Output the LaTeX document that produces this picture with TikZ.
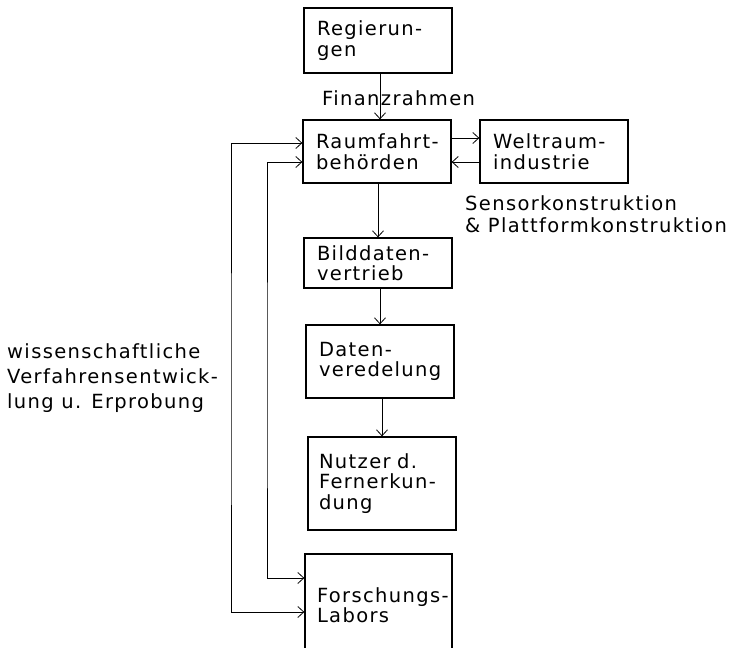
\documentclass[tikz,border=0pt]{standalone}
\usepackage{fontspec}
\setmainfont[LetterSpace=7]{DejaVu Sans}
\usetikzlibrary{arrows.meta}
\exhyphenpenalty=10000
\hyphenpenalty=10000
\begin{document}
\begin{tikzpicture}[x=1pt,y=-1pt,
  font=\fontsize{19.5}{20.5}\selectfont,
  box/.style={draw, line width=1.3pt, align=left, inner xsep=13pt, inner ysep=0pt,
     text width=122pt, minimum height=#1},
  arr/.style={line width=0.8pt, -{Straight Barb[length=6pt,width=11pt]}},
  barr/.style={line width=0.8pt, {Straight Barb[length=6pt,width=11pt]}-{Straight Barb[length=6pt,width=11pt]}},
  lbl/.style={align=left, inner sep=0pt}]
\useasboundingbox (0,0) rectangle (735,647);
\clip (0,0) rectangle (735,647);
\fill[white] (0,0) rectangle (735,647);

\node[box=65pt] (reg) at (378,40.5) {Regierun-\\gen};
\node[box=63pt] (raum) at (377,151.5) {Raumfahrt-\\behörden};
\node[box=63pt] (welt) at (554,151.5) {Weltraum-\\industrie};
\node[box=50pt] (bild) at (378,263) {Bilddaten-\\vertrieb};
\node[box=73pt] (daten) at (380,361.5) {Daten-\\veredelung};
\node[box=93pt, inner xsep=11pt, text width=126pt] (nutzer) at (382,483.5) {Nutzer d.\\Fernerkun-\\dung};
\node[box=102pt, inner xsep=12pt, text width=123pt] (forsch) at (378.5,605) {Forschungs-\\Labors};

\node[lbl, anchor=base west] (fin) at (322,106) {Finanzrahmen};
\node[lbl, anchor=base west, font=\fontsize{19.5}{22}\selectfont] (sens) at (465,232) {Sensorkonstruktion\\\& Plattformkonstruktion};
\node[lbl, anchor=base west, font=\fontsize{19.5}{25}\selectfont] (wiss) at (7,408) {wissenschaftliche\\Verfahrensentwick-\\lung u. Erprobung};

\draw[arr] (reg.south -| 380,0) -- (raum.north -| 380,0);
\draw[arr] ([yshift=13.5pt]raum.east) -- ([yshift=13.5pt]welt.west);
\draw[arr] ([yshift=-10.5pt]welt.west) -- ([yshift=-10.5pt]raum.east);
\draw[arr] (raum.south -| 378,0) -- (bild.north -| 378,0);
\draw[arr] (bild.south -| 380,0) -- (daten.north -| 380,0);
\draw[arr] (daten.south -| 382,0) -- (nutzer.north -| 382,0);

\coordinate (outer) at (231,400);
\coordinate (inner) at (267,400);
\draw[barr] ([yshift=8.5pt]raum.west) -| (outer) |- ([yshift=-7pt]forsch.west);
\draw[barr] ([yshift=-10.5pt]raum.west) -| (inner) |- ([yshift=27pt]forsch.west);
\end{tikzpicture}
\end{document}
